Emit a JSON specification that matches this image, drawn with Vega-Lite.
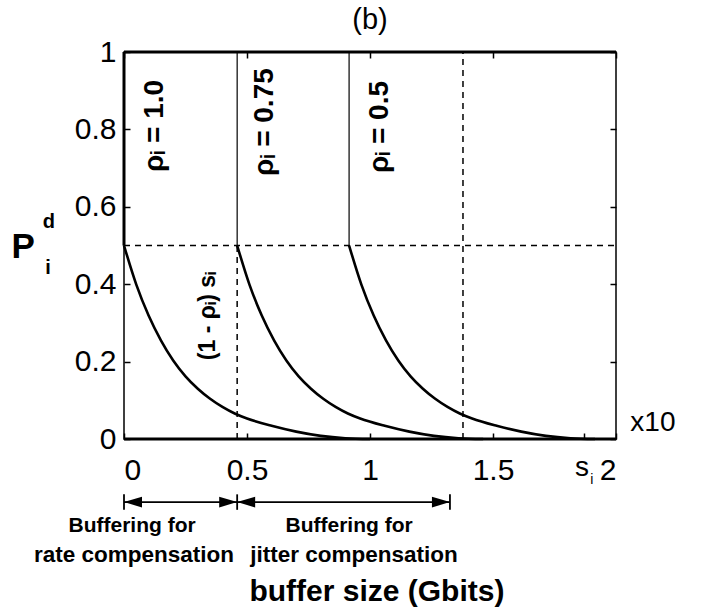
{
  "$schema": "https://vega.github.io/schema/vega-lite/v6.json",
  "width": 492,
  "height": 387,
  "autosize": {"type": "none"},
  "padding": {"left": 124, "top": 52, "right": 85, "bottom": 177},
  "background": "white",
  "config": {
    "view": {"stroke": "#000", "strokeWidth": 1.5},
    "font": "Liberation Sans",
    "axis": {
      "domain": false, "grid": false, "tickColor": "#000", "tickSize": 6, "tickWidth": 1.5, "offset": -6,
      "labelColor": "#000", "labelFont": "Liberation Sans", "labelFontSize": 30
    }
  },
  "datasets": {
    "curves": [
      {"s": "1.0", "x": 0, "y": 0.5}, {"s": "1.0", "x": 0.05, "y": 0.399}, {"s": "1.0", "x": 0.1, "y": 0.319},
      {"s": "1.0", "x": 0.15, "y": 0.255}, {"s": "1.0", "x": 0.2, "y": 0.203}, {"s": "1.0", "x": 0.25, "y": 0.162},
      {"s": "1.0", "x": 0.3, "y": 0.13}, {"s": "1.0", "x": 0.35, "y": 0.104}, {"s": "1.0", "x": 0.4, "y": 0.083},
      {"s": "1.0", "x": 0.45, "y": 0.066}, {"s": "1.0", "x": 0.5, "y": 0.053}, {"s": "1.0", "x": 0.6, "y": 0.034},
      {"s": "1.0", "x": 0.7, "y": 0.019}, {"s": "1.0", "x": 0.8, "y": 0.008}, {"s": "1.0", "x": 0.9, "y": 0.002},
      {"s": "1.0", "x": 1.0, "y": 0},
      {"s": "0.75", "x": 0.46, "y": 0.5}, {"s": "0.75", "x": 0.51, "y": 0.399}, {"s": "0.75", "x": 0.56, "y": 0.319},
      {"s": "0.75", "x": 0.61, "y": 0.255}, {"s": "0.75", "x": 0.66, "y": 0.203}, {"s": "0.75", "x": 0.71, "y": 0.162},
      {"s": "0.75", "x": 0.76, "y": 0.13}, {"s": "0.75", "x": 0.81, "y": 0.104}, {"s": "0.75", "x": 0.86, "y": 0.083},
      {"s": "0.75", "x": 0.91, "y": 0.066}, {"s": "0.75", "x": 0.96, "y": 0.053}, {"s": "0.75", "x": 1.06, "y": 0.034},
      {"s": "0.75", "x": 1.16, "y": 0.019}, {"s": "0.75", "x": 1.26, "y": 0.008}, {"s": "0.75", "x": 1.36, "y": 0.002},
      {"s": "0.75", "x": 1.46, "y": 0},
      {"s": "0.5", "x": 0.915, "y": 0.5}, {"s": "0.5", "x": 0.965, "y": 0.399}, {"s": "0.5", "x": 1.015, "y": 0.319},
      {"s": "0.5", "x": 1.065, "y": 0.255}, {"s": "0.5", "x": 1.115, "y": 0.203}, {"s": "0.5", "x": 1.165, "y": 0.162},
      {"s": "0.5", "x": 1.215, "y": 0.13}, {"s": "0.5", "x": 1.265, "y": 0.104}, {"s": "0.5", "x": 1.315, "y": 0.083},
      {"s": "0.5", "x": 1.365, "y": 0.066}, {"s": "0.5", "x": 1.415, "y": 0.053}, {"s": "0.5", "x": 1.515, "y": 0.034},
      {"s": "0.5", "x": 1.615, "y": 0.019}, {"s": "0.5", "x": 1.715, "y": 0.008}, {"s": "0.5", "x": 1.815, "y": 0.002},
      {"s": "0.5", "x": 1.915, "y": 0}
    ],
    "thinVert": [
      {"x": 0.46, "y": 0.5, "y2": 1},
      {"x": 0.915, "y": 0.5, "y2": 1}
    ],
    "thickEdges": [
      {"x": 0, "x2": 0, "y": 0.5, "y2": 1},
      {"x": 0, "x2": 2, "y": 1, "y2": 1},
      {"x": 0, "x2": 2, "y": 0, "y2": 0}
    ],
    "dashed": [
      {"x": 0, "x2": 2, "y": 0.5, "y2": 0.5},
      {"x": 0.46, "x2": 0.46, "y": 0, "y2": 0.5},
      {"x": 1.378, "x2": 1.378, "y": 0, "y2": 1}
    ],
    "arrows": [
      {"x": 0, "x2": 0.46, "y": -0.163, "y2": -0.163},
      {"x": 0.46, "x2": 1.325, "y": -0.163, "y2": -0.163},
      {"x": 0, "x2": 0, "y": -0.143, "y2": -0.183},
      {"x": 0.46, "x2": 0.46, "y": -0.143, "y2": -0.183},
      {"x": 1.325, "x2": 1.325, "y": -0.143, "y2": -0.183}
    ],
    "headsLeft": [{"x": 0, "y": -0.163}, {"x": 0.46, "y": -0.163}],
    "headsRight": [{"x": 0.46, "y": -0.163}, {"x": 1.325, "y": -0.163}],
    "rhoLabels": [
      {"x": 0.126, "y": 0.809, "label": "ρᵢ = 1.0"},
      {"x": 0.573, "y": 0.819, "label": "ρᵢ = 0.75"},
      {"x": 1.041, "y": 0.806, "label": "ρᵢ = 0.5"}
    ],
    "smallRot": [{"x": 0.341, "y": 0.318, "label": "(1 - ρᵢ) sᵢ"}],
    "titleText": [{"x": 1.0, "y": 1.083, "label": "(b)"}],
    "bigP": [{"x": -0.41, "y": 0.496, "label": "P"}],
    "pScripts": [{"x": -0.305, "y": 0.561, "label": "d"}, {"x": -0.309, "y": 0.442, "label": "i"}],
    "sideText": [{"x": 2.15, "y": 0.041, "label": "x10"}, {"x": 1.862, "y": -0.075, "label": "s"}],
    "subI": [{"x": 1.902, "y": -0.106, "label": "i"}],
    "bufText1": [
      {"x": 0.033, "y": -0.225, "label": "Buffering for"},
      {"x": 0.915, "y": -0.225, "label": "Buffering for"}
    ],
    "bufText2": [
      {"x": 0.041, "y": -0.3, "label": "rate compensation"},
      {"x": 0.935, "y": -0.3, "label": "jitter compensation"}
    ],
    "xTitle": [{"x": 1.028, "y": -0.395, "label": "buffer size (Gbits)"}]
  },
  "resolve": {"axis": {"x": "independent", "y": "independent"}},
  "encoding": {
    "x": {"field": "x", "type": "quantitative", "scale": {"domain": [0, 2], "nice": false, "zero": false}, "axis": null},
    "y": {"field": "y", "type": "quantitative", "scale": {"domain": [0, 1], "nice": false, "zero": false}, "axis": null}
  },
  "layer": [
    {
      "data": {"name": "curves"},
      "mark": {"type": "line", "color": "#000", "strokeWidth": 2.6, "interpolate": "monotone"},
      "encoding": {
        "x": {"field": "x", "type": "quantitative", "scale": {"domain": [0, 2], "nice": false, "zero": false},
              "axis": {"orient": "bottom", "values": [0, 0.5, 1, 1.5, 1.87, 2], "labelExpr": "datum.value == 1.87 ? '' : format(datum.value, '~g')", "title": null, "labelPadding": 16, "labelFontSize": 30}},
        "y": {"field": "y", "type": "quantitative", "scale": {"domain": [0, 1], "nice": false, "zero": false},
              "axis": {"orient": "left", "values": [0, 0.2, 0.4, 0.6, 0.8, 1], "format": "~g", "title": null, "labelPadding": 8, "labelFontSize": 30}},
        "detail": {"field": "s"}
      }
    },
    {
      "data": {"name": "curves"},
      "mark": {"type": "point", "opacity": 0},
      "encoding": {
        "x": {"field": "x", "type": "quantitative", "scale": {"domain": [0, 2], "nice": false, "zero": false},
              "axis": {"orient": "top", "values": [0, 0.5, 1, 1.5, 2], "labels": false, "title": null}},
        "y": {"field": "y", "type": "quantitative", "scale": {"domain": [0, 1], "nice": false, "zero": false},
              "axis": {"orient": "right", "values": [0, 0.2, 0.4, 0.6, 0.8, 1], "labels": false, "title": null}}
      }
    },
    {
      "data": {"name": "thinVert"},
      "mark": {"type": "rule", "color": "#000", "strokeWidth": 1.2},
      "encoding": {"y2": {"field": "y2"}}
    },
    {
      "data": {"name": "thickEdges"},
      "mark": {"type": "rule", "color": "#000", "strokeWidth": 3},
      "encoding": {"x2": {"field": "x2"}, "y2": {"field": "y2"}}
    },
    {
      "data": {"name": "dashed"},
      "mark": {"type": "rule", "color": "#000", "strokeWidth": 1.5, "strokeDash": [6, 5]},
      "encoding": {"x2": {"field": "x2"}, "y2": {"field": "y2"}}
    },
    {
      "data": {"name": "arrows"},
      "mark": {"type": "rule", "color": "#000", "strokeWidth": 1.8},
      "encoding": {"x2": {"field": "x2"}, "y2": {"field": "y2"}}
    },
    {
      "data": {"name": "headsLeft"},
      "mark": {"type": "point", "shape": "M 0 0 L 2 -0.6 L 2 0.6 Z", "size": 324, "filled": true, "color": "#000", "opacity": 1}
    },
    {
      "data": {"name": "headsRight"},
      "mark": {"type": "point", "shape": "M 0 0 L -2 -0.6 L -2 0.6 Z", "size": 324, "filled": true, "color": "#000", "opacity": 1}
    },
    {
      "data": {"name": "rhoLabels"},
      "mark": {"type": "text", "fontSize": 28, "fontWeight": "bold", "angle": 270, "align": "center", "baseline": "middle", "color": "#000", "font": "Liberation Sans"},
      "encoding": {"text": {"field": "label"}}
    },
    {
      "data": {"name": "smallRot"},
      "mark": {"type": "text", "fontSize": 23, "fontWeight": "bold", "angle": 270, "align": "center", "baseline": "middle", "color": "#000", "font": "Liberation Sans"},
      "encoding": {"text": {"field": "label"}}
    },
    {
      "data": {"name": "titleText"},
      "mark": {"type": "text", "fontSize": 29, "align": "center", "baseline": "middle", "color": "#000", "font": "Liberation Sans"},
      "encoding": {"text": {"field": "label"}}
    },
    {
      "data": {"name": "bigP"},
      "mark": {"type": "text", "fontSize": 35, "fontWeight": "bold", "align": "center", "baseline": "middle", "color": "#000", "font": "Liberation Sans"},
      "encoding": {"text": {"field": "label"}}
    },
    {
      "data": {"name": "pScripts"},
      "mark": {"type": "text", "fontSize": 20, "fontWeight": "bold", "align": "center", "baseline": "middle", "color": "#000", "font": "Liberation Sans"},
      "encoding": {"text": {"field": "label"}}
    },
    {
      "data": {"name": "sideText"},
      "mark": {"type": "text", "fontSize": 28, "align": "center", "baseline": "middle", "color": "#000", "font": "Liberation Sans"},
      "encoding": {"text": {"field": "label"}}
    },
    {
      "data": {"name": "subI"},
      "mark": {"type": "text", "fontSize": 14, "align": "center", "baseline": "middle", "color": "#000", "font": "Liberation Sans"},
      "encoding": {"text": {"field": "label"}}
    },
    {
      "data": {"name": "bufText1"},
      "mark": {"type": "text", "fontSize": 21, "fontWeight": "bold", "align": "center", "baseline": "middle", "color": "#000", "font": "Liberation Sans"},
      "encoding": {"text": {"field": "label"}}
    },
    {
      "data": {"name": "bufText2"},
      "mark": {"type": "text", "fontSize": 22.5, "fontWeight": "bold", "align": "center", "baseline": "middle", "color": "#000", "font": "Liberation Sans"},
      "encoding": {"text": {"field": "label"}}
    },
    {
      "data": {"name": "xTitle"},
      "mark": {"type": "text", "fontSize": 30, "fontWeight": "bold", "align": "center", "baseline": "middle", "color": "#000", "font": "Liberation Sans"},
      "encoding": {"text": {"field": "label"}}
    }
  ]
}
